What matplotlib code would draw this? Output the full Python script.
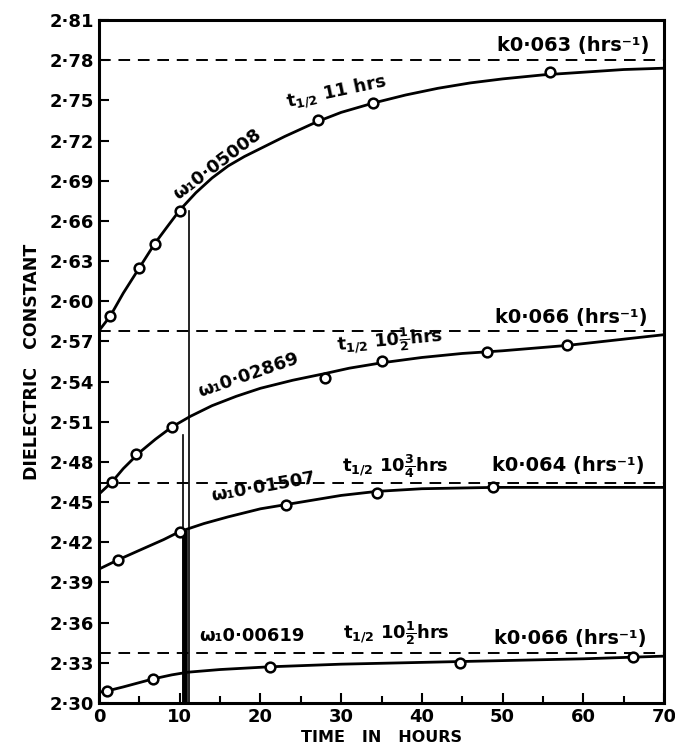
import matplotlib
matplotlib.use('Agg')
from matplotlib import pyplot as plt
from matplotlib.ticker import FixedLocator, FixedFormatter, MultipleLocator

obs_x = [
    [1.4, 5.0, 6.9, 10.0, 27.1, 34.0, 55.9],
    [1.6, 4.6, 9.0, 28.0, 35.1, 48.1, 58.0],
    [2.4, 10.0, 23.2, 34.4, 48.8],
    [1.0, 6.7, 21.2, 44.7, 66.2],
]
obs_y = [
    [2.589, 2.625, 2.643, 2.667, 2.735, 2.748, 2.771],
    [2.465, 2.486, 2.506, 2.543, 2.555, 2.562, 2.567],
    [2.407, 2.428, 2.448, 2.457, 2.461],
    [2.309, 2.318, 2.327, 2.330, 2.334],
]

# drawn curves
curve_x = [
    [0, 1.4, 3, 5, 6.9, 8.5, 10, 12, 14, 16, 18, 20, 23, 27, 30, 34, 38, 42, 46, 50, 55, 60, 65, 70],
    [0, 1.6, 3, 5, 7, 9, 11.3, 14, 17, 20, 24, 28, 31, 35, 40, 45, 50, 58, 64, 70],
    [0, 2.4, 5, 8, 10, 13, 16, 20, 23, 27, 30, 34.4, 40, 49, 60, 70],
    [0, 1, 3, 6.7, 9, 11, 15, 21, 30, 45, 60, 70],
]
curve_y = [
    [2.578, 2.589, 2.606, 2.625, 2.643, 2.656, 2.668, 2.681, 2.692, 2.701, 2.708, 2.714,
     2.723, 2.734, 2.741, 2.748, 2.754, 2.759, 2.763, 2.766, 2.769, 2.771, 2.773, 2.774],
    [2.456, 2.465, 2.475, 2.487, 2.497, 2.506, 2.514, 2.522, 2.529, 2.535, 2.541, 2.546,
     2.550, 2.554, 2.558, 2.561, 2.563, 2.567, 2.571, 2.575],
    [2.400, 2.407, 2.414, 2.422, 2.428, 2.434, 2.439, 2.445, 2.448, 2.452, 2.455, 2.458,
     2.460, 2.461, 2.461, 2.461],
    [2.308, 2.309, 2.312, 2.318, 2.321, 2.323, 2.325, 2.327, 2.329, 2.331, 2.333, 2.335],
]

# final values (dashed asymptotes)
final_y = [2.780, 2.578, 2.464, 2.337]

omega = ['ω₁0·05008', 'ω₁0·02869', 'ω₁0·01507', 'ω₁0·00619']
half_life = [r'$\mathbf{t_{1/2}\ 11\ hrs}$', r'$\mathbf{t_{1/2}\ 10\frac{1}{2}hrs}$',
             r'$\mathbf{t_{1/2}\ 10\frac{3}{4}hrs}$', r'$\mathbf{t_{1/2}\ 10\frac{1}{2}hrs}$']
rate = ['k0·063 (hrs⁻¹)', 'k0·066 (hrs⁻¹)', 'k0·064 (hrs⁻¹)', 'k0·066 (hrs⁻¹)']

y_ticks = [2.30, 2.33, 2.36, 2.39, 2.42, 2.45, 2.48, 2.51, 2.54, 2.57,
           2.60, 2.63, 2.66, 2.69, 2.72, 2.75, 2.78, 2.81]
y_tick_labels = ['2·30', '2·33', '2·36', '2·39', '2·42', '2·45', '2·48', '2·51', '2·54',
                 '2·57', '2·60', '2·63', '2·66', '2·69', '2·72', '2·75', '2·78', '2·81']
x_ticks = [0, 10, 20, 30, 40, 50, 60, 70]

# label placement (x, y, rotation) for each curve
omega_pos = [(14.7, 2.702, 37), (18.5, 2.545, 19), (20.4, 2.461, 10), (19.0, 2.350, 0)]
half_pos = [(29.4, 2.756, 12), (36.1, 2.571, 5), (36.7, 2.477, 0), (36.9, 2.352, 0)]
rate_pos = [(58.7, 2.791), (58.5, 2.588), (58.1, 2.477), (58.4, 2.348)]

plt.rcParams['font.family'] = ['DejaVu Sans']
plt.rcParams['font.weight'] = 'bold'
plt.rcParams['mathtext.fontset'] = 'dejavusans'

fig = plt.figure(figsize=(6.75, 7.51), dpi=100)
ax = fig.add_axes([0.1467, 0.0639, 0.8370, 0.9095])

for i in range(4):
    ax.plot(curve_x[i], curve_y[i], color='black', lw=2.0, zorder=3)
    ax.plot(obs_x[i], obs_y[i], linestyle='none', marker='o', markersize=7,
            markerfacecolor='white', markeredgecolor='black', markeredgewidth=1.8, zorder=4)
    ax.plot([0, 70], [final_y[i], final_y[i]], color='black', lw=1.4,
            dashes=(6, 4), zorder=2)

    ox, oy, orot = omega_pos[i]
    ax.text(ox, oy, omega[i], fontsize=13, fontweight='bold', rotation=orot,
            rotation_mode='anchor', ha='center', va='center')
    hx, hy, hrot = half_pos[i]
    ax.text(hx, hy, half_life[i], fontsize=13, fontweight='bold', rotation=hrot,
            rotation_mode='anchor', ha='center', va='center')
    rx, ry = rate_pos[i]
    ax.text(rx, ry, rate[i], fontsize=14, fontweight='bold', ha='center', va='center')

# vertical drop lines at the half-life
ax.plot([11.1, 11.1], [2.667, 2.30], color='black', lw=1.2, zorder=3)
ax.plot([10.4, 10.4], [2.500, 2.30], color='black', lw=1.2, zorder=3)
ax.plot([10.7, 10.7], [2.427, 2.30], color='black', lw=4.0, zorder=3)

ax.set_xlim(0, 70)
ax.set_ylim(2.30, 2.81)
ax.yaxis.set_major_locator(FixedLocator(y_ticks))
ax.yaxis.set_major_formatter(FixedFormatter(y_tick_labels))
ax.set_xticks(x_ticks)
ax.xaxis.set_minor_locator(MultipleLocator(5))
ax.tick_params(axis='both', which='both', direction='in', width=1.5)
ax.tick_params(axis='both', which='major', length=7, labelsize=13)
ax.tick_params(axis='x', which='minor', length=5)
for lab in ax.get_xticklabels() + ax.get_yticklabels():
    lab.set_fontweight('bold')
for sp in ax.spines.values():
    sp.set_linewidth(2.2)

ax.set_xlabel('TIME   IN   HOURS', fontsize=11.5, fontweight='bold', labelpad=3)
ax.set_ylabel('DIELECTRIC   CONSTANT', fontsize=12.5, fontweight='bold', labelpad=6)

fig.savefig('out.png', dpi=100)
